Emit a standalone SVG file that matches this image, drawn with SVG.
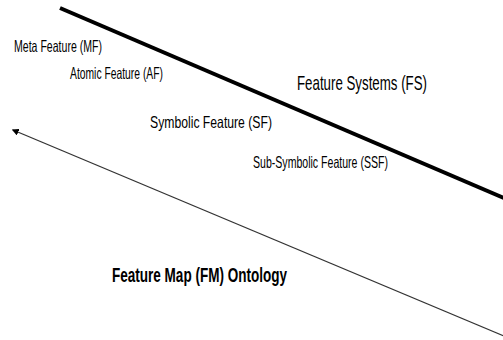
<svg xmlns="http://www.w3.org/2000/svg" width="503" height="340" viewBox="0 0 503 340">
  <style>
    .lbl { font-family: "Liberation Sans", Arial, sans-serif; fill: #000; }
    .sm { font-size: 16.5px; }
    .lg { font-size: 21px; }
    .bold { font-size: 19.5px; font-weight: bold; }
  </style>
  <defs>
    <marker id="head" viewBox="0 0 10 10" refX="8" refY="5" markerWidth="7" markerHeight="7" orient="auto-start-reverse" markerUnits="userSpaceOnUse">
      <path d="M0,0 L10,5 L0,10 z" fill="#000"/>
    </marker>
  </defs>
  <rect width="503" height="340" fill="#fff"/>

  <g id="connectors">
    <!-- boundary of the feature systems region -->
    <line x1="60" y1="8" x2="504" y2="198" stroke="#000" stroke-width="4"/>
    <!-- ontology direction arrow -->
    <line x1="504" y1="336" x2="13" y2="130" stroke="#333" stroke-width="1.3" marker-end="url(#head)"/>
  </g>

  <g id="meta-feature">
    <text class="lbl sm" x="14" y="52" textLength="88" lengthAdjust="spacingAndGlyphs">Meta Feature (MF)</text>
  </g>
  <g id="atomic-feature">
    <text class="lbl sm" x="70" y="79" textLength="93" lengthAdjust="spacingAndGlyphs">Atomic Feature (AF)</text>
  </g>
  <g id="symbolic-feature">
    <text class="lbl sm" x="150" y="128" textLength="122" lengthAdjust="spacingAndGlyphs">Symbolic Feature (SF)</text>
  </g>
  <g id="sub-symbolic-feature">
    <text class="lbl sm" x="253" y="168" textLength="135" lengthAdjust="spacingAndGlyphs">Sub-Symbolic Feature (SSF)</text>
  </g>
  <g id="feature-systems">
    <text class="lbl lg" x="297" y="90" textLength="130" lengthAdjust="spacingAndGlyphs">Feature Systems (FS)</text>
  </g>
  <g id="feature-map-ontology">
    <text class="lbl bold" x="112" y="282" textLength="175" lengthAdjust="spacingAndGlyphs">Feature Map (FM) Ontology</text>
  </g>
</svg>
